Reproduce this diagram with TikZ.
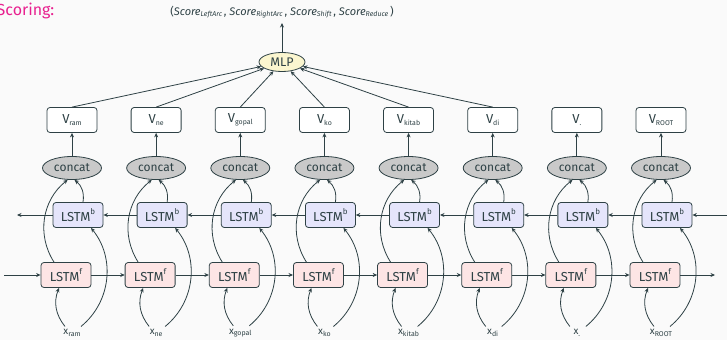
\documentclass[tikz,border=0pt]{standalone}
\usepackage{fontspec}
\setmainfont{Fira Sans}
\usetikzlibrary{arrows.meta,shapes.geometric}
\definecolor{ink}{HTML}{2E4145}
\definecolor{bgc}{HTML}{FAFAFA}
\definecolor{fwdfill}{HTML}{FDE5E5}
\definecolor{bwdfill}{HTML}{E5E5FB}
\definecolor{catfill}{HTML}{C9C9C9}
\definecolor{mlpfill}{HTML}{FBF6CF}
\definecolor{magent}{HTML}{E8208F}
\newcommand\sbs[1]{\raisebox{-0.25ex}{\fontsize{7}{8}\selectfont #1}}
\newcommand\sps[1]{\raisebox{0.9ex}{\fontsize{8}{9}\selectfont #1}}
\begin{document}
\begin{tikzpicture}[x=1pt,y=-1pt,
  every node/.style={text=ink},
  conn/.style={draw=ink,line width=0.8pt,-{Stealth[length=4.5pt,width=4pt]}},
  boxbase/.style={draw=ink,line width=0.8pt,rounded corners=3pt,minimum width=50pt,minimum height=25pt,inner sep=0pt,font=\fontsize{13}{14}\selectfont},
  vbox/.style={boxbase,fill=white},
  fbox/.style={boxbase,fill=fwdfill},
  bbox/.style={boxbase,fill=bwdfill},
  catnode/.style={ellipse,draw=ink,line width=0.8pt,fill=catfill,minimum width=59pt,minimum height=23pt,inner sep=0pt,font=\fontsize{12}{13}\selectfont},
  mlpnode/.style={ellipse,draw=ink,line width=0.8pt,fill=mlpfill,minimum width=46pt,minimum height=19pt,inner sep=0pt,font=\fontsize{12.5}{13}\selectfont},
  xlab/.style={inner sep=1pt,font=\fontsize{10}{11}\selectfont}
]
\useasboundingbox[fill=bgc] (0,0) rectangle (727,340);

\node[anchor=west,text=magent,font=\fontsize{16}{17}\selectfont,inner sep=0pt] (title) at (-3.5,11) {Scoring:};
\node[inner sep=0pt,font=\fontsize{11}{12}\selectfont] (score) at (282,12)
  {(\textit{Score}\sbs{\itshape LeftArc}\,, \textit{Score}\sbs{\itshape RightArc}\,, \textit{Score}\sbs{\itshape Shift}\,, \textit{Score}\sbs{\itshape Reduce}\,)};
\coordinate (scoretip) at (282,23);
\node[mlpnode] (mlp) at (282,62) {MLP};
\draw[conn] (mlp.north) -- (scoretip);

\foreach \i/\w in {0/ram,1/ne,2/gopal,3/ko,4/kitab,5/di,6/.,7/ROOT} {
  \pgfmathsetmacro{\cx}{72+84.14*\i}
  \node[vbox] (v\i) at (\cx,120) {V\sbs{\w}};
  \node[catnode] (c\i) at (\cx,168) {concat};
  \node[bbox] (b\i) at (\cx+6,215) {LSTM\sps{b}};
  \node[fbox] (f\i) at (\cx-6,275) {LSTM\sps{f}};
  \node[xlab] (x\i) at (\cx,333) {x\sbs{\w}};
  \draw[conn] (c\i) -- (v\i);
  \draw[conn] ([xshift=-7pt,yshift=2pt]x\i.north) to[bend left=30] ([xshift=-7pt]f\i.south);
  \draw[conn] ([xshift=9pt,yshift=2pt]x\i.north) to[bend right=45] ([xshift=13pt]b\i.south);
  \draw[conn] ([xshift=-12pt]f\i.north) to[bend left=42] (c\i.250);
  \draw[conn] ([xshift=5pt]b\i.north) to[bend right=30] (c\i.282);
}
\foreach \i in {0,...,5} { \draw[conn] (v\i.north) -- (mlp); }
\foreach \i [evaluate=\i as \j using int(\i+1)] in {0,...,6} {
  \draw[conn] (f\i.east) -- (f\j.west);
  \draw[conn] (b\j.west) -- (b\i.east);
}
\coordinate (bl) at (17,215);
\coordinate (br) at (727,215);
\coordinate (fl) at (4,275);
\coordinate (fr) at (715,275);
\draw[conn] (b0.west) -- (bl);
\draw[conn] (br) -- (b7.east);
\draw[conn] (fl) -- (f0.west);
\draw[conn] (f7.east) -- (fr);
\end{tikzpicture}
\end{document}
